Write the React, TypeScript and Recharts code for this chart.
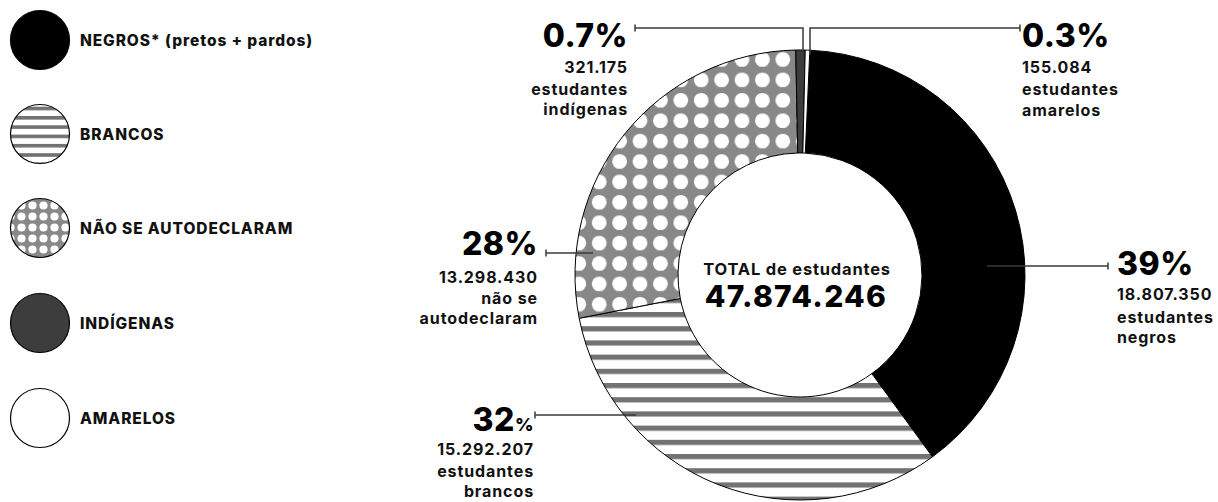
import { PieChart, Pie, Cell } from "recharts"

const categories = ["NEGROS* (pretos + pardos)", "BRANCOS", "NÃO SE AUTODECLARAM", "INDÍGENAS", "AMARELOS"]
const students = [18807350, 15292207, 13298430, 321175, 155084]
const percentLabels = ["39", "32", "28", "0.7", "0.3"]
const countLabels = ["18.807.350", "15.292.207", "13.298.430", "321.175", "155.084"]
const captionLines = [
  ["estudantes", "negros"],
  ["estudantes", "brancos"],
  ["não se", "autodeclaram"],
  ["estudantes", "indígenas"],
  ["estudantes", "amarelos"],
]
const totalTitle = "TOTAL de estudantes"
const totalValue = "47.874.246"

const fills = ["#000000", "url(#stripes)", "url(#dots)", "#3d3d3d", "#ffffff"]
const legendFills = ["#000000", "url(#stripesSmall)", "url(#dotsSmall)", "#3d3d3d", "#ffffff"]

const data = categories.map((name, i) => ({ name, value: students[i] }))

// leader geometry relative to the pie centre
const labelLayout = [
  { leader: [[187, -9], [308, -9]], x: 317, anchor: "start", pctY: 0, lineY: [25, 48, 68], smallPct: false },
  { leader: [[-164, 140], [-265, 140]], x: -267, anchor: "end", pctY: 156, lineY: [180, 202, 222], smallPct: true },
  { leader: [[-207, -22], [-254, -22]], x: -263, anchor: "end", pctY: -20, lineY: [8, 29, 49], smallPct: false },
  { leader: [[3, -220], [3, -247], [-165, -247]], x: -173, anchor: "end", pctY: -228, lineY: [-202, -180, -160], smallPct: false },
  { leader: [[10, -220], [10, -247], [220, -247]], x: 222, anchor: "start", pctY: -228, lineY: [-202, -180, -159], smallPct: false },
]

const FONT = "Inter, 'Open Sans', sans-serif"

const renderLabel = (props: any) => {
  const { cx, cy, index } = props
  const l = labelLayout[index]
  const pts = l.leader.map(([x, y]) => `${cx + x},${cy + y}`).join(" ")
  const [ex, ey] = l.leader[l.leader.length - 1]
  const lines = [countLabels[index], ...captionLines[index]]
  const tx = cx + l.x + (l.anchor === "end" ? 1 : 0)
  return (
    <g>
      <polyline points={pts} fill="none" stroke="#3a3a3a" strokeWidth={1.5} />
      <line x1={cx + ex} x2={cx + ex} y1={cy + ey - 3.5} y2={cy + ey + 3.5} stroke="#3a3a3a" strokeWidth={1.5} />
      <text x={tx} y={cy + l.pctY} textAnchor={l.anchor} fontFamily={FONT} fontWeight={800} fontSize={32} letterSpacing={0.5} fill="#000">
        {percentLabels[index]}
        <tspan fontSize={l.smallPct ? 18 : 32}>%</tspan>
      </text>
      {lines.map((t, i) => (
        <text key={i} x={tx} y={cy + l.lineY[i]} textAnchor={l.anchor} fontFamily={FONT} fontWeight={700} fontSize={16} letterSpacing={0.9} fill="#111">
          {t}
        </text>
      ))}
      {index === 0 && (
        <g>
          <text x={cx - 3} y={cy} textAnchor="middle" fontFamily={FONT} fontWeight={700} fontSize={16.5} letterSpacing={0.8} fill="#111">
            {totalTitle}
          </text>
          <text x={cx - 4} y={cy + 32} textAnchor="middle" fontFamily={FONT} fontWeight={800} fontSize={30} letterSpacing={1.3} fill="#000">
            {totalValue}
          </text>
        </g>
      )}
    </g>
  )
}

const legendY = [40, 134, 228, 323, 418]

const LegendContent = () => (
  <svg width={340} height={460} style={{ position: "absolute", left: 0, top: 0 }}>
    {categories.map((c, i) => (
      <g key={c}>
        <circle cx={40} cy={legendY[i]} r={29.5} fill={legendFills[i]} stroke="#000" strokeWidth={1.2} />
        <text x={80} y={legendY[i] + 5.5} fontFamily={FONT} fontWeight={800} fontSize={15.5} letterSpacing={0.9} fill="#111">
          {c}
        </text>
      </g>
    ))}
  </svg>
)

export default function App() {
  return (
    <div style={{ position: "absolute", left: 0, top: 0, width: 1218, height: 502, background: "#fff" }}>
      <svg width={0} height={0} style={{ position: "absolute" }}>
        <defs>
          <pattern id="stripes" patternUnits="userSpaceOnUse" x={0} y={383} width={14.2} height={14.2}>
            <rect width={14.2} height={14.2} fill="#fff" />
            <rect width={14.2} height={5.2} fill="#727272" />
          </pattern>
          <pattern id="dots" patternUnits="userSpaceOnUse" x={629.8} y={49.3} width={20.4} height={20.4}>
            <rect width={20.4} height={20.4} fill="#888888" />
            <circle cx={10.2} cy={10.2} r={7.4} fill="#fff" />
          </pattern>
          <pattern id="stripesSmall" patternUnits="userSpaceOnUse" x={0} y={116} width={9.3} height={9.3}>
            <rect width={9.3} height={9.3} fill="#fff" />
            <rect width={9.3} height={3.6} fill="#727272" />
          </pattern>
          <pattern id="dotsSmall" patternUnits="userSpaceOnUse" x={5} y={200} width={11} height={11}>
            <rect width={11} height={11} fill="#888888" />
            <circle cx={5.5} cy={5.5} r={4.1} fill="#fff" />
          </pattern>
        </defs>
      </svg>
      <LegendContent />
      <div style={{ position: "absolute", left: 0, top: 0 }}>
        <PieChart width={1218} height={502} margin={{ top: 0, right: 0, bottom: 0, left: 0 }}>
          <Pie
            data={data}
            dataKey="value"
            nameKey="name"
            cx={800}
            cy={275}
            innerRadius={122}
            outerRadius={225}
            startAngle={87.5}
            endAngle={-272.5}
            stroke="#000"
            strokeWidth={1}
            label={renderLabel}
            labelLine={false}
            isAnimationActive={false}
          >
            {data.map((d, i) => (
              <Cell key={d.name} fill={fills[i]} />
            ))}
          </Pie>
        </PieChart>
      </div>
    </div>
  )
}
